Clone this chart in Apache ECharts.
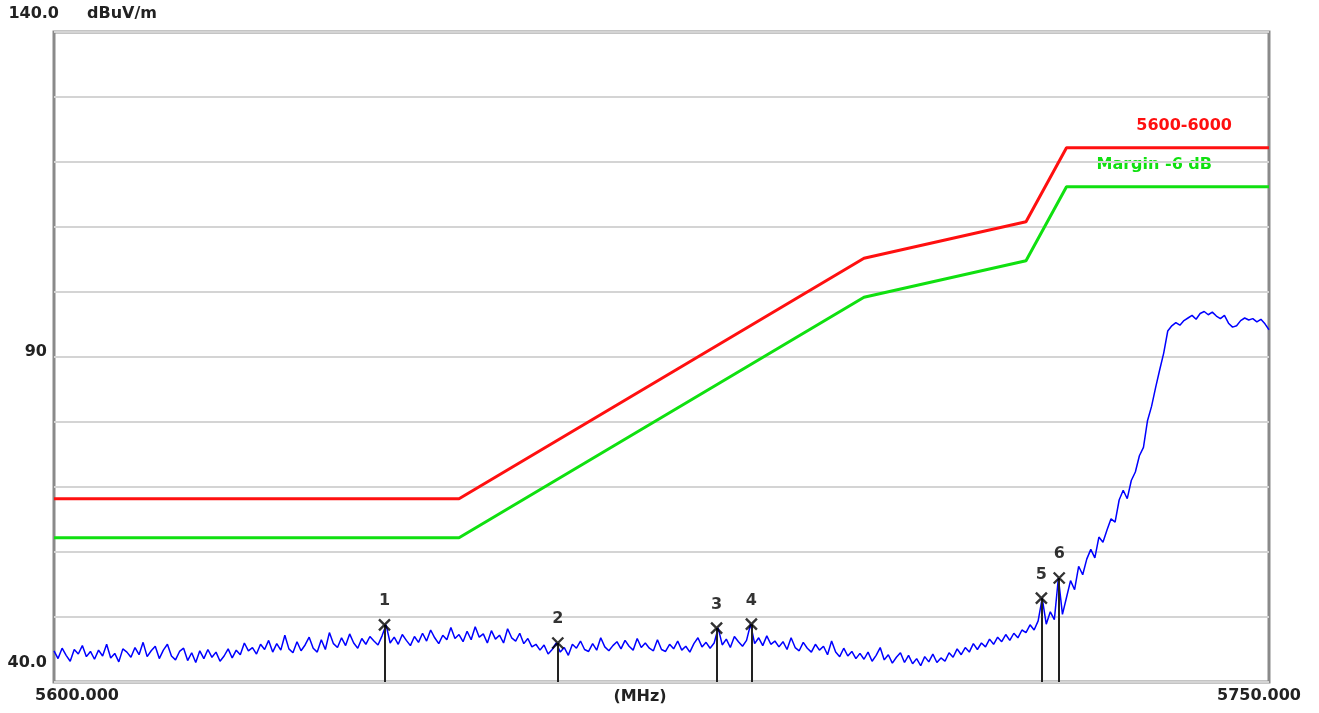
<!DOCTYPE html>
<html>
<head>
<meta charset="utf-8">
<title>Band edge scan</title>
<script src="https://cdn.jsdelivr.net/npm/echarts@6/dist/echarts.min.js"></script>
<style>
  html, body { margin: 0; padding: 0; background: #fff; }
  #chart { width: 1319px; height: 713px; }
</style>
</head>
<body>
<div id="chart"></div>
<script>
// limit lines (MHz / dBuV/m)
const limitFreq = [5600, 5650, 5700, 5720, 5725, 5750];
const limitLevel = [68.2, 68.2, 105.2, 110.8, 122.2, 122.2];
const marginLevel = [62.2, 62.2, 99.2, 104.8, 116.2, 116.2];

// measured trace, one value every 0.5 MHz from 5600 to 5750
const traceStart = 5600;
const traceStep = 0.5;
const traceLevel = [
  44.8, 43.6, 45.2, 44.1, 43.2, 45.0, 44.3, 45.6, 43.9, 44.7,
  43.5, 44.9, 44.0, 45.8, 43.7, 44.4, 43.1, 45.1, 44.6, 43.8,
  45.3, 44.2, 46.1, 43.9, 44.8, 45.5, 43.6, 44.9, 45.8, 44.0,
  43.4, 44.7, 45.2, 43.3, 44.5, 43.0, 44.8, 43.6, 45.0, 43.8,
  44.6, 43.2, 44.0, 45.1, 43.7, 44.9, 44.2, 46.0, 44.8, 45.3,
  44.3, 45.8, 45.0, 46.4, 44.6, 45.9, 44.9, 47.2, 45.1, 44.5,
  46.2, 44.8, 45.7, 46.9, 45.2, 44.6, 46.5, 45.0, 47.6, 45.9,
  45.3, 46.8, 45.6, 47.4, 46.0, 45.2, 46.7, 45.8, 47.0, 46.3,
  45.7, 47.1, 48.8, 46.0, 46.9, 45.8, 47.3, 46.4, 45.6, 47.0,
  46.1, 47.5, 46.3, 48.0, 46.8, 45.9, 47.2, 46.5, 48.4, 46.7,
  47.3, 46.2, 47.8, 46.5, 48.5, 46.9, 47.4, 46.0, 47.9, 46.6,
  47.2, 46.0, 48.2, 46.8, 46.3, 47.5, 45.9, 46.7, 45.4, 45.8,
  44.9, 45.7, 44.3, 45.0, 46.0, 44.6, 45.3, 44.1, 45.8, 45.2,
  46.3, 45.0, 44.7, 45.9, 44.9, 46.8, 45.4, 44.8, 45.6, 46.2,
  45.1, 46.4, 45.5, 44.9, 46.7, 45.3, 46.0, 45.2, 44.8, 46.5,
  45.0, 44.7, 45.8, 45.1, 46.3, 44.9, 45.5, 44.6, 45.9, 46.8,
  45.4, 46.1, 45.2, 46.0, 48.3, 45.7, 46.6, 45.3, 47.0, 46.2,
  45.5, 46.4, 48.9, 45.9, 46.8, 45.6, 47.1, 45.8, 46.3, 45.4,
  46.2, 45.0, 46.8, 45.3, 44.8, 46.1, 45.2, 44.6, 45.8, 44.9,
  45.5, 44.2, 46.3, 44.6, 43.9, 45.2, 44.0, 44.7, 43.6, 44.4,
  43.5, 44.6, 43.2, 44.1, 45.3, 43.4, 44.2, 42.9, 43.8, 44.5,
  43.0, 44.1, 42.8, 43.6, 42.5, 43.9, 43.1, 44.3, 43.0, 43.7,
  43.2, 44.5, 43.8, 45.1, 44.2, 45.3, 44.6, 45.9, 45.0, 46.0,
  45.4, 46.6, 45.8, 46.9, 46.2, 47.3, 46.4, 47.5, 46.8, 48.0,
  47.6, 48.8, 48.0, 49.4, 52.9, 48.9, 50.8, 49.6, 56.0, 50.4,
  53.0, 55.6, 54.2, 57.8, 56.5, 58.9, 60.4, 59.1, 62.3, 61.5,
  63.4, 65.1, 64.6, 68.0, 69.5, 68.2, 71.0, 72.3, 74.8, 76.1,
  80.2, 82.4, 85.3, 88.0, 90.6, 94.0, 94.8, 95.3, 94.9, 95.6,
  96.0, 96.4, 95.8, 96.7, 97.0, 96.5, 96.9, 96.3, 95.9, 96.4,
  95.2, 94.6, 94.8, 95.6, 96.0, 95.7, 95.9, 95.4, 95.8, 95.1,
  94.2
];

// peak markers
const markerName = ['1', '2', '3', '4', '5', '6'];
const markerFreq = [5640.8, 5662.2, 5681.8, 5686.1, 5721.9, 5724.1];
const markerLevel = [48.8, 46.0, 48.3, 48.9, 52.9, 56.0];

// axis labels
const xTickValues = [5600, 5750];
const xTickLabels = ['5600.000', '5750.000'];
const yTickValues = [40, 90, 140];
const yTickLabels = ['40.0', '90', '140.0'];

const limitName = '5600-6000';
const marginName = 'Margin -6 dB';
const xUnit = '(MHz)';

const font = '"DejaVu Sans", sans-serif';

const chart = echarts.init(document.getElementById('chart'));

const trace = traceLevel.map((v, i) => [traceStart + i * traceStep, v]);
const limitData = limitFreq.map((f, i) => [f, limitLevel[i]]);
const marginData = limitFreq.map((f, i) => [f, marginLevel[i]]);
const markerData = markerFreq.map((f, i) => ({ value: [f, markerLevel[i]], name: markerName[i] }));
const markerLines = markerFreq.map((f, i) => [
  { coord: [f, markerLevel[i]] },
  { coord: [f, 40] }
]);

const yRich = ['a', 'b', 'c'];

chart.setOption({
  backgroundColor: '#fff',
  animation: false,
  grid: {
    left: 54, right: 50, top: 32, bottom: 31,
    show: true,
    borderColor: '#8a8a8a',
    borderWidth: 3,
    outerBoundsMode: 'none'
  },
  xAxis: {
    type: 'value',
    min: 5600, max: 5750, interval: 150,
    axisLine: { show: false },
    axisTick: { show: false },
    splitLine: { show: false },
    axisLabel: {
      margin: 6,
      fontFamily: font, fontWeight: 'bold', fontSize: 16, color: '#222',
      formatter: v => {
        const k = xTickValues.indexOf(v);
        if (k < 0) return '';
        return '{' + (k === 0 ? 'l' : 'r') + '|' + xTickLabels[k] + '}';
      },
      rich: {
        l: { fontFamily: font, fontWeight: 'bold', fontSize: 16, color: '#222', padding: [0, 0, 0, 46] },
        r: { fontFamily: font, fontWeight: 'bold', fontSize: 16, color: '#222', padding: [0, 20, 0, 0] }
      }
    }
  },
  yAxis: {
    type: 'value',
    min: 40, max: 140, interval: 10,
    name: 'dBuV/m',
    nameLocation: 'end',
    nameGap: 18,
    nameTextStyle: {
      fontFamily: font, fontWeight: 'bold', fontSize: 16, color: '#222',
      align: 'left', verticalAlign: 'middle', padding: [0, 0, 0, 33]
    },
    axisLine: { show: false },
    axisTick: { show: false },
    splitLine: { lineStyle: { color: '#d4d4d4', width: 2 } },
    axisLabel: {
      margin: -5,
      fontFamily: font, fontWeight: 'bold', fontSize: 16, color: '#222',
      formatter: v => {
        const k = yTickValues.indexOf(v);
        if (k < 0) return '';
        return '{' + yRich[k] + '|' + yTickLabels[k] + '}';
      },
      rich: {
        a: { fontFamily: font, fontWeight: 'bold', fontSize: 16, color: '#222', padding: [0, 12, 38, 0] },
        b: { fontFamily: font, fontWeight: 'bold', fontSize: 16, color: '#222', padding: [0, 12, 10, 0] },
        c: { fontFamily: font, fontWeight: 'bold', fontSize: 16, color: '#222', padding: [0, 0, 36, 0] }
      }
    }
  },
  series: [
    {
      name: limitName,
      type: 'line',
      data: limitData,
      symbol: 'none',
      lineStyle: { color: '#ff1010', width: 3 },
      z: 3
    },
    {
      name: marginName,
      type: 'line',
      data: marginData,
      symbol: 'none',
      lineStyle: { color: '#10e010', width: 3 },
      z: 3
    },
    {
      name: 'Trace',
      type: 'line',
      data: trace,
      symbol: 'none',
      lineStyle: { color: '#0000ff', width: 1.5 },
      z: 4
    },
    {
      name: 'Markers',
      type: 'scatter',
      data: markerData,
      symbol: 'path://M0 0L10 10M10 0L0 10',
      symbolSize: 11,
      itemStyle: { color: 'transparent', borderColor: '#000', borderWidth: 2.4 },
      label: {
        show: true,
        position: 'top',
        distance: 9,
        formatter: p => p.name,
        fontFamily: font, fontWeight: 'bold', fontSize: 16, color: '#000'
      },
      markLine: {
        silent: true,
        symbol: 'none',
        label: { show: false },
        lineStyle: { color: '#222', width: 2, type: 'solid' },
        data: markerLines
      },
      z: 5
    }
  ],
  graphic: [
    {
      type: 'text',
      right: 1319 - 1232,
      top: 118,
      style: { text: limitName, fill: '#ff1010', font: 'bold 16px ' + font }
    },
    {
      type: 'text',
      right: 1319 - 1212,
      top: 157,
      style: { text: marginName, fill: '#10e010', font: 'bold 16px ' + font }
    },
    {
      type: 'text',
      x: 640,
      y: 697,
      style: { text: xUnit, fill: '#222', font: 'bold 16px ' + font, align: 'center', verticalAlign: 'middle' }
    }
  ]
});
</script>
</body>
</html>
